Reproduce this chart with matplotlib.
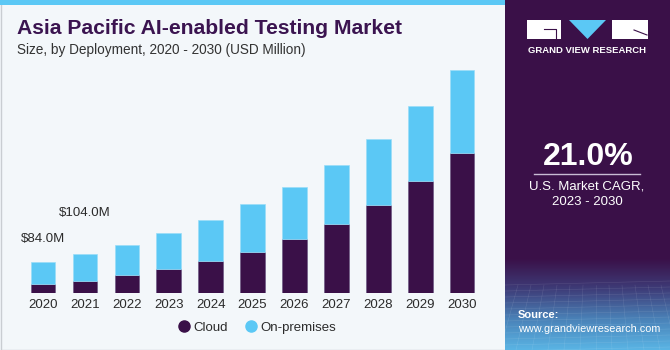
import matplotlib
matplotlib.use("Agg")
import matplotlib.pyplot as plt
import numpy as np
from matplotlib.lines import Line2D
from matplotlib.patches import Rectangle, Polygon
from matplotlib.colors import LinearSegmentedColormap

# ---- data (USD million) ----------------------------------------------------
years = ["2020", "2021", "2022", "2023", "2024", "2025",
         "2026", "2027", "2028", "2029", "2030"]
cloud = [23.3, 33.0, 47.4, 63.5, 85.0, 110.7, 144.0, 185.7, 235.0, 299.4, 375.2]
on_prem = [60.7, 71.0, 82.0, 96.5, 109.8, 128.6, 140.0, 158.2, 178.5, 201.0, 223.2]
label_idx = [0, 1]
label_text = ["$84.0M", "$104.0M"]
cagr_text = "21.0%"
cagr_caption = "U.S. Market CAGR,\n2023 - 2030"

# ---- palette ---------------------------------------------------------------
BG = "#F3F7FA"
PURPLE = "#3A1048"
BLUE = "#5BC8F5"
INK = "#2B2B2B"
TITLE = "#3B1450"
W, H = 670, 350

plt.rcParams["font.family"] = ["Liberation Sans", "DejaVu Sans"]

fig = plt.figure(figsize=(W / 100, H / 100), dpi=100)

# ---- decoration layer in pixel coords --------------------------------------
deco = fig.add_axes([0, 0, 1, 1], zorder=0)
deco.set_xlim(0, W)
deco.set_ylim(H, 0)
deco.axis("off")
deco.add_patch(Rectangle((0, 0), W, H, color=BG, lw=0))
deco.add_patch(Rectangle((0.5, 0.5), W - 1, H - 1, fill=False, ec="#C9CDD2", lw=1))
deco.add_patch(Rectangle((0, 0), 505, 4.5, color=BLUE, lw=0))
deco.add_patch(Rectangle((505, 0), W - 505, H, color=PURPLE, lw=0))

# bottom gradient of the side panel
grad = LinearSegmentedColormap.from_list("g", [PURPLE, "#3E3C78", "#4A82B8", "#5AB4E4"])
deco.imshow(np.linspace(0, 1, 100).reshape(-1, 1), cmap=grad, aspect="auto",
            extent=[505, W, H, 258], zorder=1)
for k in range(12):
    yy = 285 + k * 6
    deco.plot([505, W], [yy, yy - 4], color="white", lw=0.4, alpha=0.12, zorder=2)
for k in range(14):
    xx = 505 + k * 13
    deco.plot([xx, xx + (k - 7) * 3], [285, H], color="white", lw=0.4, alpha=0.12, zorder=2)

# logo
deco.add_patch(Rectangle((527, 20), 34, 19, color="white", lw=0, zorder=3))
deco.add_patch(Polygon([(569, 20), (606, 20), (587.5, 39)], color=BLUE, lw=0, zorder=3))
deco.add_patch(Rectangle((612, 20), 36, 19, color="white", lw=0, zorder=3))
deco.plot([544, 556, 556], [29, 29, 38], color=PURPLE, lw=0.8, zorder=4)
deco.plot([634, 647], [30, 35], color=PURPLE, lw=0.8, zorder=4)
deco.text(587.5, 50.5, "GRAND VIEW RESEARCH", color="white", fontsize=6.8,
          weight="bold", ha="center", va="center", zorder=4)

# CAGR block
deco.text(588, 157, cagr_text, color="white", fontsize=23, weight="bold",
          ha="center", va="center", zorder=4)
deco.plot([534, 640], [173.5, 173.5], color="#C8BCD4", lw=1, zorder=4)
deco.text(587, 194, cagr_caption, color="white", fontsize=9.5, ha="center",
          va="center", linespacing=1.35, zorder=4)

# source
deco.text(518, 315.5, "Source:", color="white", fontsize=8, weight="bold",
          ha="left", va="center", zorder=4)
deco.text(518, 329.5, "www.grandviewresearch.com", color="white", fontsize=7.8,
          ha="left", va="center", zorder=4)

# titles
deco.text(17, 29, "Asia Pacific AI-enabled Testing Market", color=TITLE,
          fontsize=15.2, weight="bold", ha="left", va="center", zorder=4)
deco.text(17, 50, "Size, by Deployment, 2020 - 2030 (USD Million)", color="#333333",
          fontsize=9.8, ha="left", va="center", zorder=4)

# ---- chart -----------------------------------------------------------------
L, R, BASE, TOP = 21.8, 483.3, 293.0, 54.2
ax = fig.add_axes([L / W, 1 - BASE / H, (R - L) / W, (BASE - TOP) / H], zorder=2)
ax.patch.set_alpha(0)
x = np.arange(len(years))
ax.bar(x, cloud, width=0.58, color=PURPLE, edgecolor="#6E5A86", lw=0.5, zorder=3)
ax.bar(x, on_prem, bottom=cloud, width=0.58, color=BLUE, edgecolor="#9ADDF8",
       lw=0.5, zorder=3)
ax.set_xlim(-0.5, len(years) - 0.5)
ax.set_ylim(0, 640)
ax.set_xticks(x, years)
ax.tick_params(axis="x", length=0, pad=4, labelsize=9.5, labelcolor=INK)
ax.set_yticks([])
for s in ax.spines.values():
    s.set_visible(False)

offsets = [16, 30]
for i, t, off in zip(label_idx, label_text, offsets):
    ax.annotate(t, (x[i], cloud[i] + on_prem[i]), textcoords="offset points",
                xytext=(0, off), ha="center", va="center", fontsize=9.5, color=INK)

handles = [Line2D([], [], ls="none", marker="o", ms=8, color=PURPLE),
           Line2D([], [], ls="none", marker="o", ms=8, color=BLUE)]
fig.legend(handles, ["Cloud", "On-premises"], loc="center left",
           bbox_to_anchor=(164 / W, 1 - 327.5 / H), ncol=2, frameon=False,
           fontsize=9.5, handletextpad=0.1, columnspacing=1.2, handlelength=1.2,
           labelcolor=INK)

fig.savefig("out.png", dpi=100, facecolor=BG)
